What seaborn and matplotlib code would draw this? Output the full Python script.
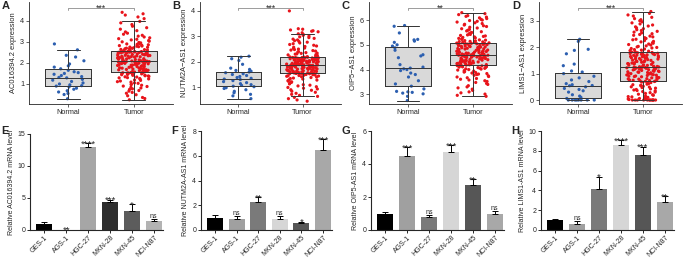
import numpy as np
import pandas as pd
import matplotlib.pyplot as plt
import seaborn as sns

sns.set_style("ticks")
plt.rcParams['font.family'] = ['Liberation Sans', 'DejaVu Sans']

groups = ["Normal", "Tumor"]

# ---- expression data (TCGA style boxplots) ----
a_normal = [2.9, 2.62, 2.36, 2.28, 2.1, 1.95, 1.86, 1.8, 1.72, 1.65, 1.58, 1.54, 1.5, 1.46, 1.4, 1.35, 1.31,
            1.29, 1.22, 1.18, 1.12, 1.05, 1.0, 0.96, 0.92, 0.9, 0.86, 0.8, 0.75, 0.68, 0.62, 0.55, 0.5, 0.3]
a_tumor = [0.25, 0.31, 0.36, 0.44, 0.49, 0.56, 0.6, 0.66, 0.69, 0.74, 0.77, 0.81, 0.84, 0.88, 0.9, 0.94, 0.97,
           1.0, 1.03, 1.05, 1.09, 1.11, 1.14, 1.17, 1.19, 1.22, 1.24, 1.26, 1.29, 1.3, 1.33, 1.34, 1.36, 1.38,
           1.39, 1.41, 1.42, 1.44, 1.45, 1.47, 1.48, 1.49, 1.5, 1.51, 1.52, 1.52, 1.53, 1.54, 1.55, 1.55,
           1.56, 1.57, 1.59, 1.6, 1.61, 1.63, 1.64, 1.65, 1.67, 1.68, 1.69, 1.71, 1.72, 1.73, 1.75, 1.76, 1.77,
           1.79, 1.8, 1.81, 1.83, 1.84, 1.85, 1.87, 1.88, 1.89, 1.9, 1.92, 1.93, 1.94, 1.95, 1.96, 1.97, 1.98,
           1.99, 2.0, 2.01, 2.02, 2.02, 2.03, 2.04, 2.04, 2.05, 2.05, 2.06, 2.06, 2.07, 2.07, 2.08, 2.08,
           2.09, 2.1, 2.11, 2.12, 2.14, 2.15, 2.16, 2.17, 2.18, 2.19, 2.2, 2.21, 2.23, 2.24, 2.25, 2.26, 2.27,
           2.28, 2.29, 2.3, 2.31, 2.32, 2.33, 2.34, 2.35, 2.36, 2.37, 2.38, 2.39, 2.4, 2.41, 2.42, 2.43, 2.44,
           2.45, 2.46, 2.47, 2.48, 2.49, 2.5, 2.5, 2.51, 2.51, 2.52, 2.52, 2.53, 2.53, 2.54, 2.54, 2.55,
           2.56, 2.57, 2.58, 2.6, 2.61, 2.63, 2.64, 2.66, 2.67, 2.69, 2.7, 2.72, 2.74, 2.75, 2.77, 2.79, 2.8,
           2.82, 2.84, 2.86, 2.88, 2.9, 2.92, 2.95, 2.97, 3.0, 3.03, 3.06, 3.09, 3.12, 3.15, 3.19, 3.23, 3.27,
           3.31, 3.36, 3.41, 3.47, 3.53, 3.6, 3.67, 3.74, 3.82, 3.9, 3.97, 4.1, 4.18, 4.27, 4.33, 4.4]

b_normal = [2.22, 2.18, 2.12, 2.05, 1.9, 1.75, 1.7, 1.66, 1.63, 1.6, 1.57, 1.53, 1.5, 1.46, 1.42, 1.38, 1.35,
            1.32, 1.3, 1.26, 1.22, 1.18, 1.14, 1.1, 1.07, 1.04, 1.02, 0.98, 0.95, 0.9, 0.84, 0.78, 0.72, 0.66, 0.55]
b_tumor = [0.45, 0.5, 0.55, 0.6, 0.64, 0.68, 0.72, 0.76, 0.8, 0.84, 0.88, 0.9, 0.93, 0.96, 0.99, 1.02, 1.05,
           1.08, 1.1, 1.13, 1.16, 1.19, 1.21, 1.24, 1.26, 1.28, 1.3, 1.32, 1.34, 1.36, 1.38, 1.4, 1.41, 1.43,
           1.44, 1.45, 1.46, 1.47, 1.48, 1.49, 1.5, 1.5, 1.51, 1.52, 1.52, 1.53, 1.53, 1.54, 1.54, 1.55,
           1.56, 1.56, 1.57, 1.58, 1.59, 1.59, 1.6, 1.61, 1.62, 1.62, 1.63, 1.64, 1.65, 1.65, 1.66, 1.67, 1.68,
           1.69, 1.7, 1.7, 1.71, 1.72, 1.73, 1.74, 1.74, 1.75, 1.76, 1.77, 1.78, 1.78, 1.79, 1.8, 1.8, 1.81,
           1.82, 1.82, 1.83, 1.83, 1.84, 1.84, 1.85, 1.85, 1.86, 1.86, 1.86, 1.87, 1.87, 1.87, 1.88, 1.88,
           1.89, 1.89, 1.9, 1.9, 1.91, 1.92, 1.92, 1.93, 1.94, 1.94, 1.95, 1.96, 1.96, 1.97, 1.98, 1.98, 1.99,
           2.0, 2.0, 2.01, 2.02, 2.02, 2.03, 2.04, 2.04, 2.05, 2.06, 2.06, 2.07, 2.08, 2.08, 2.09, 2.1, 2.1,
           2.11, 2.12, 2.12, 2.13, 2.13, 2.14, 2.14, 2.15, 2.15, 2.16, 2.16, 2.17, 2.17, 2.17, 2.18, 2.18,
           2.19, 2.2, 2.21, 2.22, 2.23, 2.24, 2.25, 2.27, 2.28, 2.3, 2.31, 2.33, 2.34, 2.36, 2.38, 2.4, 2.42,
           2.44, 2.46, 2.48, 2.5, 2.52, 2.54, 2.57, 2.6, 2.62, 2.65, 2.68, 2.71, 2.74, 2.77, 2.8, 2.83, 2.86,
           2.89, 2.92, 2.95, 2.98, 3.01, 3.04, 3.07, 3.1, 3.14, 3.18, 3.2, 3.22, 3.25, 3.28, 3.3, 4.0]

c_normal = [5.78, 5.75, 5.48, 5.22, 5.2, 5.15, 5.1, 5.0, 4.95, 4.88, 4.78, 4.6, 4.55, 4.48, 4.2, 4.1, 4.06,
            4.03, 4.0, 3.96, 3.86, 3.8, 3.7, 3.55, 3.42, 3.33, 3.22, 3.12, 3.1, 3.08, 3.05, 3.02, 2.92, 2.75]
c_tumor = [2.92, 2.96, 3.01, 3.06, 3.1, 3.16, 3.21, 3.26, 3.3, 3.35, 3.4, 3.44, 3.48, 3.52, 3.55, 3.58, 3.61,
           3.64, 3.67, 3.7, 3.72, 3.75, 3.77, 3.8, 3.82, 3.84, 3.86, 3.88, 3.9, 3.92, 3.94, 3.96, 3.98, 4.0,
           4.02, 4.03, 4.05, 4.06, 4.08, 4.09, 4.1, 4.11, 4.12, 4.13, 4.14, 4.15, 4.16, 4.16, 4.17, 4.18,
           4.19, 4.2, 4.21, 4.22, 4.23, 4.24, 4.25, 4.26, 4.27, 4.28, 4.29, 4.3, 4.31, 4.32, 4.33, 4.34, 4.35,
           4.36, 4.37, 4.38, 4.39, 4.4, 4.41, 4.42, 4.43, 4.44, 4.45, 4.46, 4.47, 4.48, 4.49, 4.5, 4.51, 4.52,
           4.53, 4.54, 4.55, 4.55, 4.56, 4.56, 4.57, 4.57, 4.58, 4.58, 4.59, 4.59, 4.59, 4.6, 4.6, 4.6,
           4.61, 4.62, 4.63, 4.64, 4.65, 4.66, 4.67, 4.68, 4.69, 4.7, 4.71, 4.72, 4.73, 4.74, 4.75, 4.76, 4.77,
           4.78, 4.79, 4.8, 4.81, 4.82, 4.83, 4.84, 4.85, 4.86, 4.87, 4.88, 4.89, 4.9, 4.91, 4.92, 4.93, 4.94,
           4.95, 4.96, 4.97, 4.98, 4.99, 5.0, 5.01, 5.02, 5.02, 5.03, 5.04, 5.04, 5.05, 5.06, 5.06, 5.07,
           5.08, 5.09, 5.1, 5.12, 5.13, 5.14, 5.16, 5.17, 5.19, 5.2, 5.22, 5.24, 5.26, 5.28, 5.3, 5.32, 5.34,
           5.36, 5.38, 5.4, 5.42, 5.45, 5.48, 5.5, 5.53, 5.56, 5.59, 5.62, 5.65, 5.68, 5.71, 5.74, 5.77, 5.8,
           5.83, 5.86, 5.89, 5.92, 5.95, 5.98, 6.0, 6.03, 6.06, 6.09, 6.12, 6.15, 6.18, 6.22, 6.26, 6.3]

d_normal = [2.3, 2.22, 1.92, 1.88, 1.75, 1.36, 1.3, 1.1, 1.06, 1.0, 0.9, 0.84, 0.76, 0.7, 0.62, 0.58, 0.55,
            0.54, 0.5, 0.44, 0.4, 0.35, 0.3, 0.2, 0.15, 0.1, 0.06, 0, 0, 0, 0, 0, 0, 0, 0]
d_tumor = [0, 0, 0, 0, 0, 0, 0, 0, 0, 0, 0, 0, 0.02, 0.03, 0.04, 0.06, 0.08, 0.1, 0.12, 0.13, 0.15, 0.18,
           0.2, 0.22, 0.25, 0.28, 0.3, 0.32, 0.35, 0.36, 0.38, 0.4, 0.42, 0.45, 0.47, 0.49, 0.5, 0.52, 0.54,
           0.56, 0.58, 0.6, 0.62, 0.64, 0.66, 0.68, 0.7, 0.71, 0.72, 0.73,
           0.74, 0.75, 0.76, 0.78, 0.79, 0.8, 0.81, 0.83, 0.84, 0.85, 0.86, 0.88, 0.89, 0.9, 0.91, 0.93, 0.94,
           0.95, 0.96, 0.98, 0.99, 1.0, 1.01, 1.03, 1.04, 1.05, 1.06, 1.07, 1.08, 1.09, 1.1, 1.11, 1.12, 1.13,
           1.14, 1.15, 1.16, 1.17, 1.18, 1.19, 1.2, 1.2, 1.21, 1.22, 1.22, 1.23, 1.23, 1.24, 1.24, 1.25,
           1.26, 1.27, 1.28, 1.29, 1.31, 1.32, 1.33, 1.35, 1.36, 1.37, 1.38, 1.4, 1.41, 1.42, 1.43, 1.45, 1.46,
           1.47, 1.48, 1.5, 1.51, 1.52, 1.53, 1.55, 1.56, 1.57, 1.58, 1.6, 1.61, 1.62, 1.63, 1.64, 1.65, 1.66,
           1.67, 1.68, 1.69, 1.7, 1.71, 1.72, 1.73, 1.74, 1.75, 1.76, 1.77, 1.78, 1.79, 1.8, 1.81, 1.82,
           1.83, 1.85, 1.87, 1.89, 1.91, 1.93, 1.95, 1.97, 1.99, 2.01, 2.03, 2.05, 2.08, 2.1, 2.12, 2.15, 2.17,
           2.2, 2.22, 2.25, 2.28, 2.3, 2.33, 2.36, 2.39, 2.42, 2.45, 2.48, 2.51, 2.54, 2.57, 2.6, 2.63, 2.66,
           2.7, 2.73, 2.77, 2.8, 2.84, 2.88, 2.92, 2.96, 3.0, 3.04, 3.08, 3.13, 3.18, 3.22, 3.28, 3.35]

# ---- qPCR bar data ----
cell_lines = ["GES-1", "AGS-1", "HGC-27", "MKN-28", "MKN-45", "NCI-N87"]

e_mean = [1.0, 0.03, 13.0, 4.45, 3.0, 1.45]
e_err = [0.22, 0.02, 0.55, 0.3, 1.0, 0.25]
e_sig = ["", "**", "****", "***", "*", "ns"]

f_mean = [1.0, 0.88, 2.25, 0.88, 0.6, 6.45]
f_err = [0.2, 0.25, 0.42, 0.28, 0.08, 0.9]
f_sig = ["", "ns", "**", "ns", "*", "***"]

g_mean = [1.0, 4.5, 0.8, 4.75, 2.7, 0.95]
g_err = [0.1, 0.52, 0.12, 0.4, 0.38, 0.2]
g_sig = ["", "***", "ns", "***", "**", "ns"]

h_mean = [1.0, 0.62, 4.1, 8.55, 7.55, 2.8]
h_err = [0.1, 0.28, 1.3, 0.5, 0.85, 0.6]
h_sig = ["", "ns", "*", "****", "***", "**"]

e_colors = ["#000000", "#9a9a9a", "#a6a6a6", "#2e2e2e", "#5c5c5c", "#b3b3b3"]
fgh_colors = ["#000000", "#a0a0a0", "#7a7a7a", "#d6d6d6", "#565656", "#a8a8a8"]

W, H = 685, 258
fig = plt.figure(figsize=(W / 100, H / 100), dpi=100)


def px_axes(left, top, right, bottom):
    return fig.add_axes([left / W, 1 - bottom / H, (right - left) / W, (bottom - top) / H])


def sig_text(ax, s, x, y, size):
    # stars sit high in the em box, letters on the baseline
    off = 0.8 if s == "ns" else -0.35 * size
    ax.annotate(s, (x, y), xytext=(0, off), textcoords="offset points",
                ha="center", va="baseline", fontsize=size if "*" in s else 5)


def box_panel(ax, normal, tumor, ylabel, ylim, yticks, sig):
    df = pd.DataFrame({"group": ["Normal"] * len(normal) + ["Tumor"] * len(tumor),
                       "value": normal + tumor})
    sns.boxplot(data=df, x="group", y="value", ax=ax, color="#d9d9d9", linecolor="#333333",
                linewidth=0.6, width=0.7, showfliers=False, zorder=1)
    sns.stripplot(data=df, x="group", y="value", hue="group", palette=["#2c5fb0", "#e8141b"],
                  ax=ax, jitter=0.25, size=2.3, linewidth=0, legend=False, zorder=3)
    sns.boxplot(data=df, x="group", y="value", ax=ax, color="#333333", fill=False,
                linewidth=0.6, width=0.7, showfliers=False, zorder=4)
    ax.set_xlim(-0.6, 1.6)
    ax.set_ylim(*ylim)
    ax.set_yticks(yticks)
    ax.set_xlabel("")
    ax.set_ylabel(ylabel, fontsize=5.4, labelpad=2)
    ax.tick_params(labelsize=5.2, length=2, width=0.5, pad=1.5)
    sns.despine(ax=ax)
    for s in ["left", "bottom"]:
        ax.spines[s].set_linewidth(0.6)
    span = ylim[1] - ylim[0]
    y1 = ylim[1] - span * 0.058
    y0 = y1 - span * 0.025
    ax.plot([0, 0, 1, 1], [y0, y1, y1, y0], color="#8c8c8c", lw=0.6, clip_on=False)
    sig_text(ax, sig, 0.5, y1, 6.3)


def bar_panel(ax, means, errs, sigs, colors, ylabel, ymax, yticks):
    df = pd.DataFrame({"line": cell_lines, "value": means})
    sns.barplot(data=df, x="line", y="value", hue="line", palette=colors, ax=ax, width=0.74,
                legend=False, errorbar=None, linewidth=0)
    x = np.arange(len(means))
    ax.errorbar(x, means, yerr=[np.zeros(len(errs)), errs], fmt="none", ecolor="black",
                elinewidth=0.7, capsize=2.5, capthick=0.7)
    for xi, m, e, s in zip(x, means, errs, sigs):
        if s:
            sig_text(ax, s, xi, m + e, 6.8)
    ax.set_xlim(-0.65, 5.42)
    ax.set_ylim(0, ymax)
    ax.set_yticks(yticks)
    ax.set_xlabel("")
    ax.set_ylabel(ylabel, fontsize=5, labelpad=2)
    ax.tick_params(axis="y", labelsize=5, length=2, width=0.7, pad=1.5)
    ax.tick_params(axis="x", labelsize=5, length=2, width=0.7, pad=1)
    plt.setp(ax.get_xticklabels(), rotation=45, ha="right", rotation_mode="anchor")
    sns.despine(ax=ax)
    for s in ["left", "bottom"]:
        ax.spines[s].set_linewidth(0.8)


np.random.seed(7)

ax_a = px_axes(29, 2, 173, 104)
box_panel(ax_a, a_normal, a_tumor, "AC016394.2 expression", (0.05, 4.89), [1, 2, 3, 4], "***")
ax_b = px_axes(200, 2, 341, 104)
box_panel(ax_b, b_normal, b_tumor, "NUTM2A\u2212AS1 expression", (0.34, 4.35), [1, 2, 3, 4], "***")
ax_c = px_axes(369, 2, 512, 104)
box_panel(ax_c, c_normal, c_tumor, "OIP5\u2212AS1 expression", (2.61, 6.73), [3, 4, 5, 6], "**")
ax_d = px_axes(539, 2, 682, 104)
box_panel(ax_d, d_normal, d_tumor, "LIMS1\u2212AS1 expression", (-0.15, 3.71), [0, 1, 2, 3], "***")

ax_e = px_axes(30, 134, 163, 230)
bar_panel(ax_e, e_mean, e_err, e_sig, e_colors, "Relative AC016394.2 mRNA level", 15, [0, 5, 10, 15])
ax_f = px_axes(201, 131, 332, 230)
bar_panel(ax_f, f_mean, f_err, f_sig, fgh_colors, "Relative NUTM2A-AS1 mRNA level", 8, [0, 2, 4, 6, 8])
ax_g = px_axes(371, 131, 504, 230)
bar_panel(ax_g, g_mean, g_err, g_sig, fgh_colors, "Relative OIP5-AS1 mRNA level", 6, [0, 2, 4, 6])
ax_h = px_axes(541, 131, 674, 230)
bar_panel(ax_h, h_mean, h_err, h_sig, fgh_colors, "Relative LIMS1-AS1 mRNA level", 10, [0, 2, 4, 6, 8, 10])

for letter, (px, py) in zip("ABCDEFGH", [(2, 9), (172, 9), (342, 9), (512, 9),
                                         (1, 134), (171, 134), (341, 134), (511, 134)]):
    fig.text(px / W, 1 - py / H, letter, fontsize=8, fontweight="bold")

fig.savefig("out.png", dpi=100)
